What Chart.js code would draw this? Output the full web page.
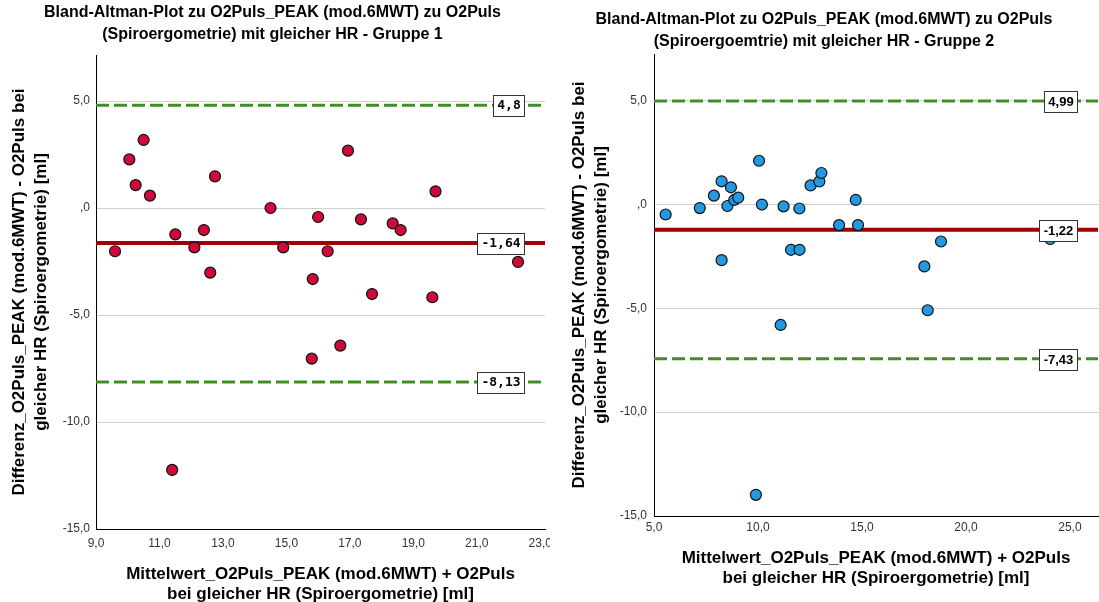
<!DOCTYPE html>
<html>
<head>
<meta charset="utf-8">
<script src="https://cdn.jsdelivr.net/npm/chart.js@4"></script>
<style>
  html, body { margin: 0; padding: 0; background: #fff; }
  canvas { position: absolute; top: 0; }
  #left { left: 0; }
  #right { left: 550px; }
</style>
</head>
<body>
<canvas id="left" width="550" height="602"></canvas>
<canvas id="right" width="549" height="602"></canvas>
<script>
// Gruppe 1
const g1Mean = [9.6, 10.05, 10.25, 10.5, 10.7, 11.5, 12.1, 12.4, 12.6, 12.75, 14.5, 14.9, 15.83,
  16.94, 19.7, 16.0, 17.35, 18.35, 18.6, 16.3, 17.7, 19.6, 22.3, 16.7, 15.8, 11.4];
const g1Diff = [-2.02, 2.27, 1.07, 3.18, 0.58, -1.23, -1.84, -1.03, -3.02, 1.48, 0.0, -1.84, -3.32,
  2.68, 0.78, -0.42, -0.53, -0.72, -1.03, -2.02, -4.02, -4.17, -2.52, -6.43, -7.04, -12.24];
const g1Limits = [4.8, -1.64, -8.13];
const g1LimitLabels = ['4,8', '-1,64', '-8,13'];
const g1XTicks = [9, 11, 13, 15, 17, 19, 21, 23];
const g1XTickLabels = ['9,0', '11,0', '13,0', '15,0', '17,0', '19,0', '21,0', '23,0'];
const g1YTicks = [-15, -10, -5, 0, 5];
const g1YTickLabels = ['-15,0', '-10,0', '-5,0', ',0', '5,0'];

// Gruppe 2
const g2Mean = [5.56, 7.2, 7.88, 8.25, 8.7, 8.53, 8.86, 9.05, 8.25, 10.05, 10.19, 9.9, 11.09, 11.23,
  11.59, 12.0, 11.99, 12.53, 12.95, 13.05, 13.9, 14.7, 14.81, 18.0, 18.16, 18.8, 24.05];
const g2Diff = [-0.48, -0.17, 0.43, 1.12, 0.83, -0.07, 0.22, 0.33, -2.68, 2.11, 0.0, -13.98, -5.8, -0.09,
  -2.18, -2.18, -0.19, 0.92, 1.11, 1.52, -0.99, 0.22, -0.99, -2.98, -5.09, -1.78, -1.66];
const g2Limits = [4.99, -1.22, -7.43];
const g2LimitLabels = ['4,99', '-1,22', '-7,43'];
const g2XTicks = [5, 10, 15, 20, 25];
const g2XTickLabels = ['5,0', '10,0', '15,0', '20,0', '25,0'];
const g2YTicks = [-15, -10, -5, 0, 5];
const g2YTickLabels = ['-15,0', '-10,0', '-5,0', ',0', '5,0'];

const xTitle = ['Mittelwert_O2Puls_PEAK (mod.6MWT) + O2Puls', 'bei gleicher HR (Spiroergometrie) [ml]'];
const yTitle = ['Differenz_O2Puls_PEAK (mod.6MWT) - O2Puls bei', 'gleicher HR (Spiroergometrie) [ml]'];

const FONT = "'Liberation Sans', Arial, sans-serif";

// boxed value labels at the right end of the mean / limit lines
const limitLabels = {
  id: 'limitLabels',
  afterDatasetsDraw(chart, args, opts) {
    const { ctx, chartArea, scales } = chart;
    ctx.save();
    ctx.font = opts.font;
    ctx.textBaseline = 'middle';
    ctx.textAlign = 'center';
    opts.values.forEach((v, i) => {
      const y = Math.round(scales.y.getPixelForValue(v));
      const w = Math.round(ctx.measureText(opts.labels[i]).width + 8);
      const h = 21;
      const x = Math.round(chartArea.right - opts.inset - w);
      ctx.fillStyle = '#fff';
      ctx.fillRect(x, y - 10, w, h);
      ctx.strokeStyle = '#333';
      ctx.lineWidth = 1;
      ctx.strokeRect(x + 0.5, y - 10 + 0.5, w, h);
      ctx.fillStyle = '#000';
      ctx.fillText(opts.labels[i], x + w / 2 + 0.5, y + 1);
    });
    ctx.restore();
  }
};

function makeChart(id, c) {
  const lineSet = (v, color, width, dash) => ({
    type: 'scatter',
    showLine: true,
    data: [{ x: c.xMin, y: v }, { x: c.xMax, y: v }],
    borderColor: color,
    borderWidth: width,
    borderDash: dash,
    pointRadius: 0,
    order: 2
  });
  return new Chart(document.getElementById(id), {
    type: 'scatter',
    data: {
      datasets: [
        {
          data: c.mean.map((m, i) => ({ x: m, y: c.diff[i] })),
          backgroundColor: c.color,
          borderColor: '#111',
          borderWidth: 1.2,
          pointRadius: 5.5,
          pointHoverRadius: 5.5,
          order: 0
        },
        lineSet(c.limits[0], '#3f8f25', 3, [13, 5]),
        lineSet(c.limits[1], '#a00000', 4, []),
        lineSet(c.limits[2], '#3f8f25', 3, [13, 5])
      ]
    },
    options: {
      responsive: false,
      animation: false,
      devicePixelRatio: 1,
      events: [],
      layout: { autoPadding: false, padding: { left: 0, right: c.padRight, top: 0, bottom: 0 } },
      plugins: {
        legend: { display: false },
        tooltip: { enabled: false },
        title: {
          display: true,
          text: c.title,
          color: '#000',
          font: { family: FONT, size: 16, weight: 'bold', lineHeight: 1.375 },
          padding: c.titlePad
        },
        limitLabels: { values: c.limits, labels: c.limitLabels, font: c.labelFont, inset: 21 }
      },
      scales: {
        x: {
          type: 'linear',
          min: c.xMin,
          max: c.xMax,
          afterBuildTicks: (s) => { s.ticks = c.xTicks.map(v => ({ value: v })); },
          afterFit: (s) => { s.height = c.xAxisH; s.paddingLeft = 0; s.paddingRight = 0; },
          grid: { display: false, drawTicks: false },
          border: { display: true, color: '#000', width: 1 },
          ticks: {
            color: '#333',
            padding: c.xTickPad,
            maxRotation: 0,
            autoSkip: false,
            font: { family: FONT, size: 12 },
            callback: (v) => c.xTickLabels[c.xTicks.indexOf(v)]
          },
          title: {
            display: true,
            text: xTitle,
            color: '#000',
            font: { family: FONT, size: 17, weight: 'bold', lineHeight: 1.2 },
            padding: { top: 0, bottom: c.xTitleBottom }
          }
        },
        y: {
          type: 'linear',
          min: -15,
          max: c.yMax,
          afterBuildTicks: (s) => { s.ticks = c.yTicks.map(v => ({ value: v })); },
          afterFit: (s) => { s.width = c.yAxisW; s.paddingTop = 0; s.paddingBottom = 0; },
          grid: { color: '#cfcfcf', lineWidth: 1, drawTicks: false },
          border: { display: true, color: '#000', width: 1 },
          ticks: {
            color: '#333',
            padding: c.yTickPad,
            autoSkip: false,
            font: { family: FONT, size: 12 },
            callback: (v) => c.yTickLabels[c.yTicks.indexOf(v)]
          },
          title: {
            display: true,
            text: yTitle,
            color: '#000',
            font: { family: FONT, size: 17, weight: 'bold', lineHeight: 1.25 },
            padding: { top: c.yTitleLeft, bottom: 0 }
          }
        }
      }
    },
    plugins: [limitLabels]
  });
}

makeChart('left', {
  mean: g1Mean, diff: g1Diff, color: '#cf0a3a',
  limits: g1Limits, limitLabels: g1LimitLabels,
  labelFont: "bold 13px 'DejaVu Sans Mono', monospace",
  xMin: 9, xMax: 23.15, yMax: 7.15,
  xTicks: g1XTicks, xTickLabels: g1XTickLabels,
  yTicks: g1YTicks, yTickLabels: g1YTickLabels,
  title: ['Bland-Altman-Plot zu O2Puls_PEAK (mod.6MWT) zu O2Puls', '(Spiroergometrie) mit gleicher HR - Gruppe 1'],
  titlePad: { top: 2, bottom: 9 },
  padRight: 5, xAxisH: 73, yAxisW: 96,
  xTickPad: 7, yTickPad: 6, xTitleBottom: -3, yTitleLeft: 9
});

makeChart('right', {
  mean: g2Mean, diff: g2Diff, color: '#2299e0',
  limits: g2Limits, limitLabels: g2LimitLabels,
  labelFont: "bold 13px 'Liberation Sans', Arial, sans-serif",
  xMin: 5, xMax: 26.35, yMax: 7.25,
  xTicks: g2XTicks, xTickLabels: g2XTickLabels,
  yTicks: g2YTicks, yTickLabels: g2YTickLabels,
  title: ['Bland-Altman-Plot zu O2Puls_PEAK (mod.6MWT) zu O2Puls', '(Spiroergoemtrie) mit gleicher HR - Gruppe 2'],
  titlePad: { top: 9, bottom: 1 },
  padRight: 1, xAxisH: 86, yAxisW: 104,
  xTickPad: 4, yTickPad: 7, xTitleBottom: 13, yTitleLeft: 19
});
</script>
</body>
</html>
